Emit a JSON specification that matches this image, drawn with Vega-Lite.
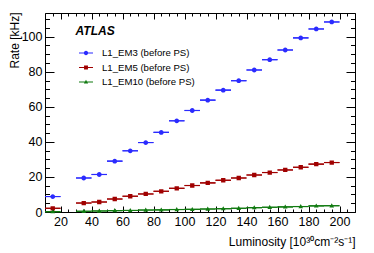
{
  "$schema": "https://vega.github.io/schema/vega-lite/v6.json",
  "autosize": "none",
  "width": 310,
  "height": 199,
  "padding": {"left": 45, "top": 13, "right": 19, "bottom": 41},
  "background": "white",
  "config": {
    "font": "Liberation Sans",
    "view": {"stroke": "black", "strokeWidth": 1},
    "axis": {"grid": false, "domain": false, "tickColor": "black", "labelColor": "black", "titleColor": "black", "tickWidth": 1}
  },
  "datasets": {
    "label": [{"text": "ATLAS", "lumi": 29.7, "rate": 101}]
  },
  "data": {
    "values": [
      {"series": "L1_EM3 (before PS)", "lumi": 15, "lo": 10, "hi": 20, "rate": 8.8},
      {"series": "L1_EM3 (before PS)", "lumi": 35, "lo": 30, "hi": 40, "rate": 19.4},
      {"series": "L1_EM3 (before PS)", "lumi": 45, "lo": 40, "hi": 50, "rate": 21.4},
      {"series": "L1_EM3 (before PS)", "lumi": 55, "lo": 50, "hi": 60, "rate": 29.0},
      {"series": "L1_EM3 (before PS)", "lumi": 65, "lo": 60, "hi": 70, "rate": 34.9},
      {"series": "L1_EM3 (before PS)", "lumi": 75, "lo": 70, "hi": 80, "rate": 39.6},
      {"series": "L1_EM3 (before PS)", "lumi": 85, "lo": 80, "hi": 90, "rate": 45.4},
      {"series": "L1_EM3 (before PS)", "lumi": 95, "lo": 90, "hi": 100, "rate": 52.0},
      {"series": "L1_EM3 (before PS)", "lumi": 105, "lo": 100, "hi": 110, "rate": 57.9},
      {"series": "L1_EM3 (before PS)", "lumi": 115, "lo": 110, "hi": 120, "rate": 63.8},
      {"series": "L1_EM3 (before PS)", "lumi": 125, "lo": 120, "hi": 130, "rate": 69.5},
      {"series": "L1_EM3 (before PS)", "lumi": 135, "lo": 130, "hi": 140, "rate": 74.9},
      {"series": "L1_EM3 (before PS)", "lumi": 145, "lo": 140, "hi": 150, "rate": 81.0},
      {"series": "L1_EM3 (before PS)", "lumi": 155, "lo": 150, "hi": 160, "rate": 86.9},
      {"series": "L1_EM3 (before PS)", "lumi": 165, "lo": 160, "hi": 170, "rate": 92.4},
      {"series": "L1_EM3 (before PS)", "lumi": 175, "lo": 170, "hi": 180, "rate": 99.3},
      {"series": "L1_EM3 (before PS)", "lumi": 185, "lo": 180, "hi": 190, "rate": 104.4},
      {"series": "L1_EM3 (before PS)", "lumi": 195, "lo": 190, "hi": 200, "rate": 108.4},
      {"series": "L1_EM5 (before PS)", "lumi": 15, "lo": 10, "hi": 20, "rate": 2.1},
      {"series": "L1_EM5 (before PS)", "lumi": 35, "lo": 30, "hi": 40, "rate": 5.1},
      {"series": "L1_EM5 (before PS)", "lumi": 45, "lo": 40, "hi": 50, "rate": 5.7},
      {"series": "L1_EM5 (before PS)", "lumi": 55, "lo": 50, "hi": 60, "rate": 7.4},
      {"series": "L1_EM5 (before PS)", "lumi": 65, "lo": 60, "hi": 70, "rate": 9.0},
      {"series": "L1_EM5 (before PS)", "lumi": 75, "lo": 70, "hi": 80, "rate": 10.3},
      {"series": "L1_EM5 (before PS)", "lumi": 85, "lo": 80, "hi": 90, "rate": 11.8},
      {"series": "L1_EM5 (before PS)", "lumi": 95, "lo": 90, "hi": 100, "rate": 13.5},
      {"series": "L1_EM5 (before PS)", "lumi": 105, "lo": 100, "hi": 110, "rate": 15.1},
      {"series": "L1_EM5 (before PS)", "lumi": 115, "lo": 110, "hi": 120, "rate": 16.6},
      {"series": "L1_EM5 (before PS)", "lumi": 125, "lo": 120, "hi": 130, "rate": 18.1},
      {"series": "L1_EM5 (before PS)", "lumi": 135, "lo": 130, "hi": 140, "rate": 19.4},
      {"series": "L1_EM5 (before PS)", "lumi": 145, "lo": 140, "hi": 150, "rate": 21.1},
      {"series": "L1_EM5 (before PS)", "lumi": 155, "lo": 150, "hi": 160, "rate": 22.5},
      {"series": "L1_EM5 (before PS)", "lumi": 165, "lo": 160, "hi": 170, "rate": 24.0},
      {"series": "L1_EM5 (before PS)", "lumi": 175, "lo": 170, "hi": 180, "rate": 25.5},
      {"series": "L1_EM5 (before PS)", "lumi": 185, "lo": 180, "hi": 190, "rate": 27.3},
      {"series": "L1_EM5 (before PS)", "lumi": 195, "lo": 190, "hi": 200, "rate": 28.2},
      {"series": "L1_EM10 (before PS)", "lumi": 15, "lo": 10, "hi": 20, "rate": 0.2},
      {"series": "L1_EM10 (before PS)", "lumi": 35, "lo": 30, "hi": 40, "rate": 0.4},
      {"series": "L1_EM10 (before PS)", "lumi": 45, "lo": 40, "hi": 50, "rate": 0.6},
      {"series": "L1_EM10 (before PS)", "lumi": 55, "lo": 50, "hi": 60, "rate": 0.8},
      {"series": "L1_EM10 (before PS)", "lumi": 65, "lo": 60, "hi": 70, "rate": 0.9},
      {"series": "L1_EM10 (before PS)", "lumi": 75, "lo": 70, "hi": 80, "rate": 1.1},
      {"series": "L1_EM10 (before PS)", "lumi": 85, "lo": 80, "hi": 90, "rate": 1.2},
      {"series": "L1_EM10 (before PS)", "lumi": 95, "lo": 90, "hi": 100, "rate": 1.4},
      {"series": "L1_EM10 (before PS)", "lumi": 105, "lo": 100, "hi": 110, "rate": 1.5},
      {"series": "L1_EM10 (before PS)", "lumi": 115, "lo": 110, "hi": 120, "rate": 1.7},
      {"series": "L1_EM10 (before PS)", "lumi": 125, "lo": 120, "hi": 130, "rate": 1.9},
      {"series": "L1_EM10 (before PS)", "lumi": 135, "lo": 130, "hi": 140, "rate": 2.1},
      {"series": "L1_EM10 (before PS)", "lumi": 145, "lo": 140, "hi": 150, "rate": 2.5},
      {"series": "L1_EM10 (before PS)", "lumi": 155, "lo": 150, "hi": 160, "rate": 2.7},
      {"series": "L1_EM10 (before PS)", "lumi": 165, "lo": 160, "hi": 170, "rate": 2.9},
      {"series": "L1_EM10 (before PS)", "lumi": 175, "lo": 170, "hi": 180, "rate": 3.1},
      {"series": "L1_EM10 (before PS)", "lumi": 185, "lo": 180, "hi": 190, "rate": 3.5},
      {"series": "L1_EM10 (before PS)", "lumi": 195, "lo": 190, "hi": 200, "rate": 3.6}
    ]
  },
  "resolve": {"axis": {"x": "independent", "y": "independent"}},
  "layer": [
    {
      "mark": {"type": "rule", "strokeWidth": 1.2},
      "encoding": {
        "x": {"field": "lo", "type": "quantitative", "scale": {"domain": [10, 210], "nice": false, "zero": false},
          "axis": {"orient": "bottom", "values": [20, 40, 60, 80, 100, 120, 140, 160, 180, 200], "tickSize": -6, "labelPadding": 9, "labelFontSize": 12.5, "labelFlush": false,
            "title": "Luminosity [10³⁰cm⁻²s⁻¹]", "titleFontSize": 12, "titleFontWeight": "normal", "titleAnchor": "end", "titleAlign": "right", "titleX": 310, "titleY": 29, "titleBaseline": "middle"}},
        "x2": {"field": "hi"},
        "y": {"field": "rate", "type": "quantitative", "scale": {"domain": [0, 113.5], "nice": false, "zero": false},
          "axis": {"orient": "left", "values": [0, 20, 40, 60, 80, 100], "tickSize": -9, "labelPadding": 12, "labelFontSize": 12.5, "labelFlush": false,
            "title": "Rate [kHz]", "titleFontSize": 12, "titleFontWeight": "normal", "titleAngle": -90, "titleAlign": "right", "titleBaseline": "middle", "titleX": -31, "titleY": -1}},
        "color": {"field": "series", "type": "nominal", "sort": ["L1_EM3 (before PS)", "L1_EM5 (before PS)", "L1_EM10 (before PS)"],
          "scale": {"domain": ["L1_EM3 (before PS)", "L1_EM5 (before PS)", "L1_EM10 (before PS)"], "range": ["#2b2bff", "#a00000", "#107a10"]}}
      }
    },
    {
      "mark": {"type": "point", "filled": true, "opacity": 1, "size": 240, "strokeWidth": 0},
      "encoding": {
        "x": {"field": "lumi", "type": "quantitative",
          "axis": {"orient": "bottom", "values": [10,15,25,30,35,45,50,55,65,70,75,85,90,95,105,110,115,125,130,135,145,150,155,165,170,175,185,190,195,205,210], "tickSize": -3, "labels": false, "title": null}},
        "y": {"field": "rate", "type": "quantitative",
          "axis": {"orient": "left", "values": [5,10,15,25,30,35,45,50,55,65,70,75,85,90,95,105,110], "tickSize": -4.5, "labels": false, "title": null}},
        "color": {"field": "series", "type": "nominal", "sort": ["L1_EM3 (before PS)", "L1_EM5 (before PS)", "L1_EM10 (before PS)"],
          "legend": {"title": null, "orient": "none", "legendX": 34, "legendY": 33, "symbolSize": 196, "labelFontSize": 9.6, "labelOffset": 9, "rowPadding": 2.5, "padding": 0, "symbolStrokeWidth": 0, "labelColor": "black"}},
        "shape": {"field": "series", "type": "nominal", "sort": ["L1_EM3 (before PS)", "L1_EM5 (before PS)", "L1_EM10 (before PS)"],
          "scale": {"domain": ["L1_EM3 (before PS)", "L1_EM5 (before PS)", "L1_EM10 (before PS)"],
            "range": ["M-1,-0.07H1V0.07H-1Z M0.31,0A0.31,0.31 0 1,1 -0.31,0A0.31,0.31 0 1,1 0.31,0Z", "M-1,-0.07H1V0.07H-1Z M-0.28,-0.28H0.28V0.28H-0.28Z", "M-1,-0.07H1V0.07H-1Z M0,-0.32L0.3,0.22H-0.3Z"]},
          "legend": {"title": null, "orient": "none", "legendX": 34, "legendY": 33, "symbolSize": 196, "labelFontSize": 9.6, "labelOffset": 9, "rowPadding": 2.5, "padding": 0, "symbolStrokeWidth": 0, "labelColor": "black"}}
      }
    },
    {
      "mark": {"type": "point", "opacity": 0},
      "encoding": {
        "x": {"field": "lumi", "type": "quantitative",
          "axis": {"orient": "top", "values": [20, 40, 60, 80, 100, 120, 140, 160, 180, 200], "tickSize": -6, "labels": false, "title": null}},
        "y": {"field": "rate", "type": "quantitative",
          "axis": {"orient": "right", "values": [0, 20, 40, 60, 80, 100], "tickSize": -9, "labels": false, "title": null}}
      }
    },
    {
      "mark": {"type": "point", "opacity": 0},
      "encoding": {
        "x": {"field": "lumi", "type": "quantitative",
          "axis": {"orient": "top", "values": [10,15,25,30,35,45,50,55,65,70,75,85,90,95,105,110,115,125,130,135,145,150,155,165,170,175,185,190,195,205,210], "tickSize": -3, "labels": false, "title": null}},
        "y": {"field": "rate", "type": "quantitative",
          "axis": {"orient": "right", "values": [5,10,15,25,30,35,45,50,55,65,70,75,85,90,95,105,110], "tickSize": -4.5, "labels": false, "title": null}}
      }
    },
    {
      "data": {"name": "label"},
      "mark": {"type": "text", "align": "left", "baseline": "alphabetic", "fontSize": 12, "fontWeight": "bold", "fontStyle": "italic", "color": "black"},
      "encoding": {
        "x": {"field": "lumi", "type": "quantitative", "axis": null},
        "y": {"field": "rate", "type": "quantitative", "axis": null},
        "text": {"field": "text"}
      }
    }
  ]
}
